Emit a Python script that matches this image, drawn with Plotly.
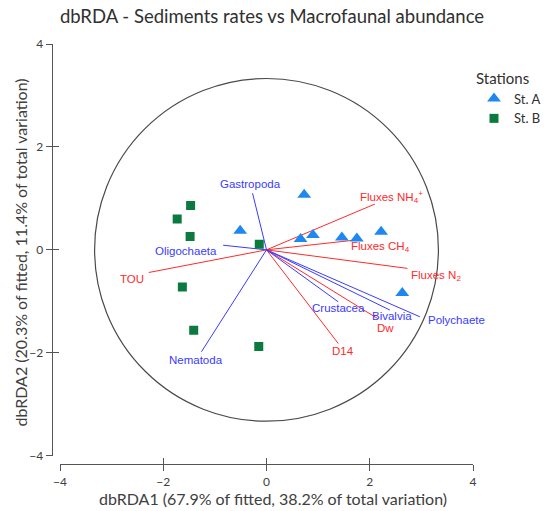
import plotly.graph_objects as go

W, H = 544, 511

# Sample scores on the first two dbRDA axes
st_a_x = [-0.51, 0.73, 0.66, 0.90, 1.46, 1.75, 2.22, 2.63]
st_a_y = [0.37, 1.07, 0.21, 0.29, 0.24, 0.22, 0.35, -0.84]
st_b_x = [-1.47, -1.73, -1.48, -0.14, -1.63, -1.41, -0.15]
st_b_y = [0.86, 0.60, 0.26, 0.11, -0.72, -1.56, -1.88]

# Sediment rate vectors (red)
env_names = ["TOU", "Fluxes NH<sub>4</sub><sup>+</sup>", "Fluxes CH<sub>4</sub>",
             "Fluxes N<sub>2</sub>", "Dw", "D14"]
env_x = [-2.28, 2.10, 1.72, 2.73, 2.16, 1.39]
env_y = [-0.44, 0.89, 0.19, -0.36, -1.34, -1.82]

# Macrofaunal taxa vectors (blue)
taxa_names = ["Gastropoda", "Oligochaeta", "Nematoda", "Crustacea", "Bivalvia", "Polychaete"]
taxa_x = [-0.27, -0.84, -1.26, 1.39, 2.39, 2.97]
taxa_y = [1.10, 0.09, -1.98, -1.01, -1.17, -1.30]

circle_radius = 3.33
tick_vals = [-4, -2, 0, 2, 4]

RED = "#ff2a2a"
BLUE = "#3a3aff"
LABEL_FONT = "Liberation Sans, Arial, sans-serif"
MAIN_FONT = "Lato, Open Sans, sans-serif"

# label placement relative to vector tips: (xanchor, xshift px, yshift px)
label_place = {
    "TOU": ("right", -3, -7),
    "Fluxes NH<sub>4</sub><sup>+</sup>": ("left", -17, 7),
    "Fluxes CH<sub>4</sub>": ("left", -6, -7),
    "Fluxes N<sub>2</sub>": ("left", 2, -8),
    "Dw": ("center", 7, -9),
    "D14": ("center", 5, -7),
    "Gastropoda": ("center", -2, 9),
    "Oligochaeta": ("right", -4, -6),
    "Nematoda": ("center", -5, -8),
    "Crustacea": ("center", 0, -6),
    "Bivalvia": ("center", 2, -6),
    "Polychaete": ("left", 6, -3),
}


def vector_xy(xs, ys):
    vx, vy = [], []
    for x, y in zip(xs, ys):
        vx += [0, x, None]
        vy += [0, y, None]
    return vx, vy


fig = go.Figure()

ex, ey = vector_xy(env_x, env_y)
fig.add_trace(go.Scatter(x=ex, y=ey, mode="lines", line=dict(color=RED, width=1),
                         showlegend=False, hoverinfo="skip"))
tx, ty = vector_xy(taxa_x, taxa_y)
fig.add_trace(go.Scatter(x=tx, y=ty, mode="lines", line=dict(color=BLUE, width=1),
                         showlegend=False, hoverinfo="skip"))

fig.add_trace(go.Scatter(x=st_a_x, y=st_a_y, mode="markers", name="St. A",
                         marker=dict(symbol="triangle-up", size=12, color="#1e88f0")))
fig.add_trace(go.Scatter(x=st_b_x, y=st_b_y, mode="markers", name="St. B",
                         marker=dict(symbol="square", size=9, color="#0a7a3e")))

# empty trace carrying the inner-tick overlay axes
fig.add_trace(go.Scatter(x=[None], y=[None], xaxis="x2", yaxis="y2",
                         showlegend=False, hoverinfo="skip"))

for names, xs, ys, col in [(env_names, env_x, env_y, RED), (taxa_names, taxa_x, taxa_y, BLUE)]:
    for n, x, y in zip(names, xs, ys):
        anchor, dx, dy = label_place[n]
        fig.add_annotation(x=x, y=y, text=n, showarrow=False, xanchor=anchor, yanchor="middle",
                           xshift=dx, yshift=dy,
                           font=dict(family=LABEL_FONT, size=11.5, color=col))

fig.add_shape(type="circle", xref="x", yref="y", x0=-circle_radius, x1=circle_radius,
              y0=-circle_radius, y1=circle_radius, line=dict(color="#4a4a4a", width=1.2),
              layer="below")

# axis titles
fig.add_annotation(xref="paper", yref="paper", x=272.5 / W, y=1 - 498 / H,
                   text="dbRDA1 (67.9% of fitted, 38.2% of total variation)", showarrow=False,
                   xanchor="center", yanchor="middle",
                   font=dict(family=MAIN_FONT, size=16, color="#404040"))
fig.add_annotation(xref="paper", yref="paper", x=20 / W, y=1 - 252.5 / H, textangle=-90,
                   text="dbRDA2 (20.3% of fitted, 11.4% of total variation)", showarrow=False,
                   xanchor="center", yanchor="middle",
                   font=dict(family=MAIN_FONT, size=16, color="#404040"))

x_dom = [60 / W, 473 / W]
y_dom = [1 - 455.7 / H, 1 - 44 / H]
x_pos = 1 - 464 / H
y_pos = 51.7 / W

axis_common = dict(range=[-4, 4], tickvals=tick_vals, showgrid=False, zeroline=False,
                   showline=True, linecolor="#555555", linewidth=1.3,
                   tickcolor="#555555", tickwidth=1.3, ticklen=6, automargin=False)

fig.update_layout(
    width=W, height=H,
    margin=dict(l=0, r=0, t=0, b=0, autoexpand=False),
    paper_bgcolor="white", plot_bgcolor="white",
    font=dict(family=MAIN_FONT, color="#404040"),
    title=dict(text="dbRDA - Sediments rates vs Macrofaunal abundance", x=0.5, xanchor="center",
               y=1 - 17 / H, yanchor="middle", font=dict(family=MAIN_FONT, size=18.5, color="#303030")),
    xaxis=dict(domain=x_dom, anchor="free", position=x_pos, ticks="outside",
               tickfont=dict(size=12, color="#404040"), **axis_common),
    yaxis=dict(domain=y_dom, anchor="free", position=y_pos, ticks="outside",
               tickfont=dict(size=12, color="#404040"), **axis_common),
    xaxis2=dict(domain=x_dom, anchor="free", position=x_pos, overlaying="x", ticks="inside",
                showticklabels=False, **axis_common),
    yaxis2=dict(domain=y_dom, anchor="free", position=y_pos, overlaying="y", ticks="inside",
                showticklabels=False, **axis_common),
    legend=dict(x=474 / W, y=1 - 64 / H, xanchor="left", yanchor="top",
                title=dict(text="Stations", font=dict(size=15, color="#303030")),
                font=dict(size=13, color="#303030"), bgcolor="rgba(0,0,0,0)",
                itemwidth=30, tracegroupgap=0),
)

fig.write_html("out.html")
